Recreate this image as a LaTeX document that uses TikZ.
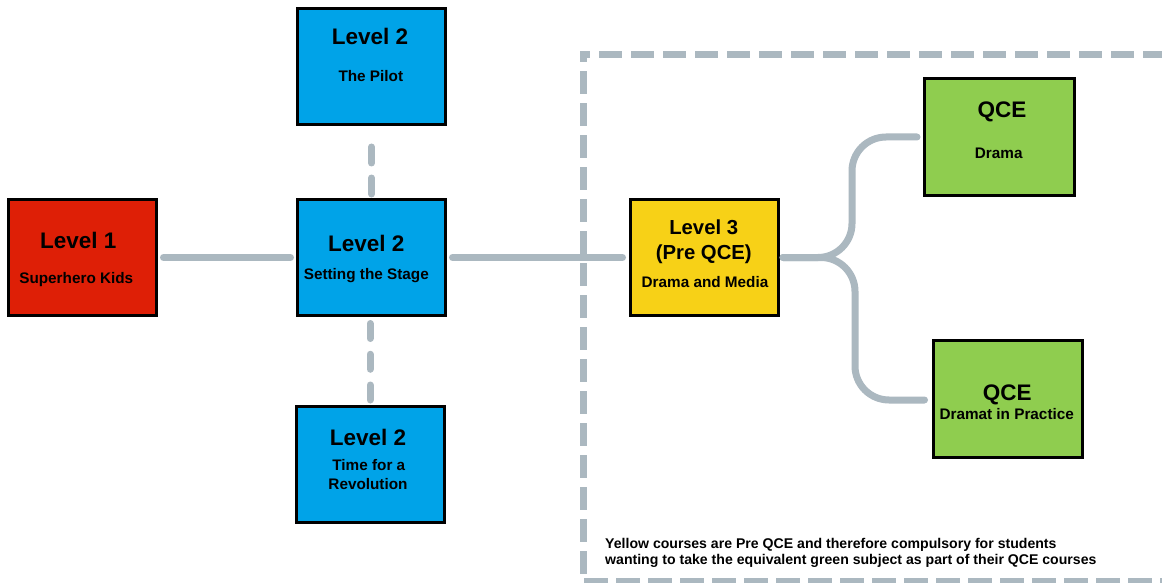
\documentclass[tikz,border=0pt]{standalone}
\usepackage{fontspec}
\setmainfont{Liberation Sans}
\definecolor{lvlred}{HTML}{DE1F06}
\definecolor{lvlblue}{HTML}{00A3E8}
\definecolor{lvlyellow}{HTML}{F7D117}
\definecolor{lvlgreen}{HTML}{8FCD4F}
\definecolor{linkgray}{HTML}{ABB8C0}
\begin{document}
\begin{tikzpicture}[x=1pt,y=-1pt,
  course/.style={draw=black, line width=3pt, minimum width=148pt,
    minimum height=116pt, inner sep=0pt, outer sep=0pt},
  title/.style={anchor=base, inner sep=0pt, font=\fontsize{22.5}{27}\selectfont\bfseries},
  smalltitle/.style={anchor=base, inner sep=0pt, font=\fontsize{20.3}{24}\selectfont\bfseries},
  subtitle/.style={anchor=base, inner sep=0pt, font=\fontsize{15.3}{18}\selectfont\bfseries},
  link/.style={draw=linkgray, line width=7pt, line cap=round, line join=round},
  frame/.style={draw=linkgray, line width=7pt, line cap=rect,
    dash pattern=on 16.3pt off 15.7pt, dash phase=12.8pt}]
\useasboundingbox (0,0) rectangle (1162,583);
\fill[white] (0,0) rectangle (1162,583);
\clip (0,0) rectangle (1162,583);

% frame around the senior pathway
\draw[frame] (583,55) -- (1180,55);
\draw[frame] (583,55) -- (583,581.5) -- (1180,581.5);

% course boxes
\node[course, fill=lvlred]    (L1)    at (82.5,257.5) {};
\node[course, fill=lvlblue]   (stage) at (371.5,257.5) {};
\node[course, fill=lvlblue]   (pilot) at (371.5,66.5) {};
\node[course, fill=lvlblue]   (revo)  at (370,464.5) {};
\node[course, fill=lvlyellow] (L3)    at (704.5,257.5) {};
\node[course, fill=lvlgreen, minimum width=150pt, minimum height=117pt] (qdrama) at (999.5,137) {};
\node[course, fill=lvlgreen, minimum width=149pt, minimum height=117pt] (qprac)  at (1007.5,399) {};

% box texts
\node[title]    (L1t)  at (78.3,248.3)  {Level 1};
\node[subtitle] (L1s)  at (76.3,283.3)  {Superhero Kids};
\node[title]    (stt)  at (366.3,251.7) {Level 2};
\node[subtitle] (sts)  at (366.3,279.5) {Setting the Stage};
\node[title]    (pit)  at (370,45)      {Level 2};
\node[subtitle] (pis)  at (370.8,81.7)  {The Pilot};
\node[title]    (ret)  at (368,445)     {Level 2};
\node[subtitle] (res1) at (368.8,470.7) {Time for a};
\node[subtitle] (res2) at (368,489.3)   {Revolution};
\node[smalltitle] (L3t1) at (703.7,234.3) {Level 3};
\node[smalltitle] (L3t2) at (703.8,259.5) {(Pre QCE)};
\node[subtitle] (L3s)  at (705,287.7)   {Drama and Media};
\node[title]    (qdt)  at (1002,117.7)  {QCE};
\node[subtitle] (qds)  at (998.7,159)   {Drama};
\node[title]    (qpt)  at (1007.2,400)  {QCE};
\node[subtitle] (qps)  at (1006.7,419.3) {Dramat in Practice};

% note (base anchor sits on the last line)
\node[anchor=base west, inner sep=0pt, align=left,
  font=\fontsize{14.1}{16}\selectfont\bfseries] (note) at (605,564.3)
  {Yellow courses are Pre QCE and therefore compulsory for students\\
   wanting to take the equivalent green subject as part of their QCE courses};

% connectors
\draw[link, shorten <=7pt, shorten >=7pt] (L1.east) -- (stage.west);
\draw[link, shorten <=7pt, shorten >=8pt] (stage.east) -- (L3.west);
\draw[link, dash pattern=on 16pt off 15pt, shorten <=5.5pt, shorten >=22.5pt]
  (stage.north) -- (pilot.south);
\draw[link, dash pattern=on 15pt off 15.75pt, shorten <=8pt, shorten >=6.5pt]
  (revo.north |- stage.south) -- (revo.north);
\draw[link, rounded corners=34pt, shorten <=4.5pt, shorten >=7.5pt]
  (L3.east) -- (852,257.5) -- (852,137) -- (qdrama.west);
\draw[link, rounded corners=34pt, shorten <=4.5pt, shorten >=8.5pt]
  (L3.east) -- (855,257.5) -- (855,400) -- (qprac.west |- 0,400);
\end{tikzpicture}
\end{document}
